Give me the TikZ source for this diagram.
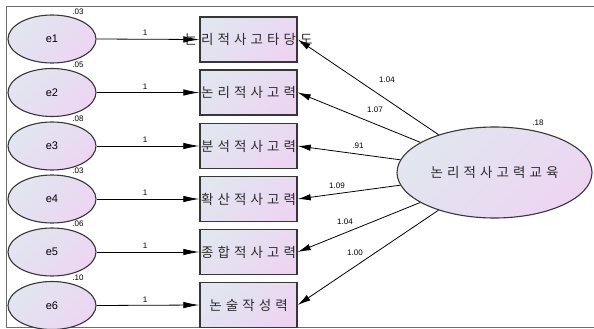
\documentclass[tikz,border=0pt]{standalone}
\usepackage{fontspec}
\setmainfont{Liberation Sans}
\newfontfamily\kfont{Noto Sans CJK KR}
\usetikzlibrary{arrows.meta,shapes.geometric}
\definecolor{cA}{RGB}{225,230,240}
\definecolor{cB}{RGB}{237,213,242}
\definecolor{edgec}{RGB}{55,55,55}
\definecolor{framec}{RGB}{110,110,110}
\definecolor{ktext}{RGB}{45,45,45}
\def\spc#1{\spcA#1\relax}
\def\spcA#1{\ifx#1\relax\else\makebox[16.5pt]{#1}\expandafter\spcA\fi}
\begin{document}
\begin{tikzpicture}[x=1pt,y=-1pt,
  err/.style={ellipse, draw=edgec, line width=1.1pt, minimum width=88pt, minimum height=48pt,
    inner sep=0pt, top color=cA, bottom color=cB, shading angle=45,
    font=\fontsize{11}{12}\selectfont},
  obs/.style={rectangle, draw=edgec, line width=1.4pt, minimum width=97pt, minimum height=45pt,
    inner sep=0pt, top color=cA, bottom color=cB, shading angle=45,
    font=\kfont\fontsize{13.5}{14}\selectfont, text=ktext},
  lat/.style={ellipse, draw=edgec, line width=1.1pt, minimum width=195pt, minimum height=91pt,
    inner sep=0pt, top color=cA, bottom color=cB, shading angle=45,
    font=\kfont\fontsize{13.5}{14}\selectfont, text=ktext},
  num/.style={font=\fontsize{8}{9}\selectfont, inner sep=0pt},
  arl/.style={-{Latex[length=16pt,width=6.5pt]}, line width=0.8pt},
  arr/.style={-{Latex[length=13pt,width=6.5pt]}, line width=0.8pt}
]
\useasboundingbox (0,0) rectangle (594,329);
\draw[framec, line width=1.4pt] (594,6.5) -- (6.5,6.5) -- (6.5,327.5) -- (594,327.5);

\node[err] (e1) at (52,39) {e1};
\node[err] (e2) at (52,92.5) {e2};
\node[err] (e3) at (52,146) {e3};
\node[err] (e4) at (52,199) {e4};
\node[err] (e5) at (52,252) {e5};
\node[err] (e6) at (52,305.5) {e6};

\node[obs] (b1) at (248.5,39.5) {\makebox[0pt]{\spc{논리적사고타당도}}};
\node[obs] (b2) at (248.5,92.5) {\makebox[0pt]{\spc{논리적사고력}}};
\node[obs] (b3) at (248.5,146) {\makebox[0pt]{\spc{분석적사고력}}};
\node[obs] (b4) at (248.5,199) {\makebox[0pt]{\spc{확산적사고력}}};
\node[obs] (b5) at (248.5,252) {\makebox[0pt]{\spc{종합적사고력}}};
\node[obs] (b6) at (248.5,305) {\makebox[0pt]{\spc{논술작성력}}};

\node[lat] (F) at (494.5,172.5) {\spc{논리적사고력교육}};

\node[num] (v1) at (78,12) {.03};
\node[num] (v2) at (78,65) {.05};
\node[num] (v3) at (78,118.5) {.08};
\node[num] (v4) at (78,171) {.03};
\node[num] (v5) at (78,224) {.06};
\node[num] (v6) at (78,277.5) {.10};
\node[num] (vF) at (538,123) {.18};

\foreach \i in {1,...,6}{
  \draw[arl] (e\i.east) -- (b\i.west);
}
\node[num] (o1) at (145,33) {1};
\node[num] (o2) at (145,86.5) {1};
\node[num] (o3) at (145,140) {1};
\node[num] (o4) at (145,193) {1};
\node[num] (o5) at (145,246) {1};
\node[num] (o6) at (145,299.5) {1};

\foreach \i in {1,...,6}{
  \draw[arr] (F) -- (b\i.east);
}
\node[num] (l1) at (387,80) {1.04};
\node[num] (l2) at (375,110) {1.07};
\node[num] (l3) at (358,146) {.91};
\node[num] (l4) at (337,186) {1.09};
\node[num] (l5) at (345,222) {1.04};
\node[num] (l6) at (355,253) {1.00};
\end{tikzpicture}
\end{document}
